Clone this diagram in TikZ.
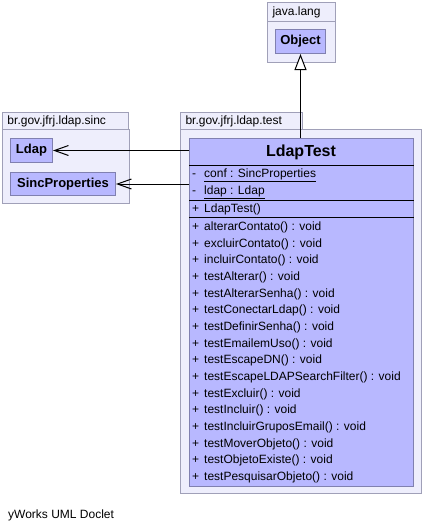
\documentclass[tikz,border=0pt]{standalone}
\usepackage{fontspec}
\setmainfont{Liberation Sans}
\usetikzlibrary{arrows.meta}
\definecolor{pkgfill}{RGB}{238,238,252}
\definecolor{pkgline}{RGB}{160,160,184}
\definecolor{clsfill}{RGB}{184,184,255}
\definecolor{clsline}{RGB}{128,128,176}

\begin{document}
\begin{tikzpicture}[x=1pt,y=-1pt]
    \tikzstyle{pkg}=[draw=pkgline, fill=pkgfill, anchor=north west, inner sep=0pt, line width=1pt]
    \tikzstyle{pkgtab}=[pkg, align=left, inner xsep=5pt, font=\fontsize{12}{14}\selectfont]
    \tikzstyle{cls}=[draw=clsline, fill=clsfill, anchor=north west, inner sep=0pt, line width=1pt, font=\fontsize{13}{15}\selectfont\bfseries]
    \tikzstyle{member}=[anchor=west, inner sep=0pt, font=\fontsize{12}{14}\selectfont]
    \tikzstyle{assoc}=[-{Straight Barb[length=14pt,width=10pt]}, line width=1pt]
    \tikzstyle{inherit}=[-{Triangle[length=16pt,width=12pt,fill=white]}, line width=1pt]

    \useasboundingbox (0,0) rectangle (423,531);
    \fill[white] (0,0) rectangle (423,531);

    % java.lang
    \node[pkgtab, minimum width=68pt, minimum height=19pt, text width=58pt] (langtab) at (267,2) {java.lang};
    \node[pkg, minimum width=68pt, minimum height=41pt] (lang) at (267,21) {};
    \node[cls, minimum width=50pt, minimum height=24pt] (object) at (275,29) {Object};

    % br.gov.jfrj.ldap.sinc
    \node[pkgtab, minimum width=126pt, minimum height=17pt, text width=116pt] (sinctab) at (2,112) {br.gov.jfrj.ldap.sinc};
    \node[pkg, minimum width=127pt, minimum height=74pt] (sinc) at (2,129) {};
    \node[cls, minimum width=42pt, minimum height=24pt] (ldap) at (10,138) {Ldap};
    \node[cls, minimum width=105pt, minimum height=23pt] (sincprops) at (10,172) {SincProperties};

    % br.gov.jfrj.ldap.test
    \node[pkgtab, minimum width=122pt, minimum height=17pt, text width=112pt] (testtab) at (180,112) {br.gov.jfrj.ldap.test};
    \node[pkg, minimum width=241pt, minimum height=364pt] (test) at (180,129) {};
    \node[cls, minimum width=224pt, minimum height=348pt] (ldaptest) at (189,138) {};
    \node[inner sep=0pt, font=\fontsize{16}{18}\selectfont\bfseries] (ldaptitle) at (301,152) {LdapTest};
    \foreach \y in {165,200,217}
        \draw[line width=1pt] (ldaptest.west |- 0,\y) -- (ldaptest.east |- 0,\y);

    \node[member] (conf) at (192,175) {\makebox[12pt][l]{-}\underline{conf : SincProperties}};
    \node[member] (ldapattr) at (192,192) {\makebox[12pt][l]{-}\underline{ldap : Ldap}};
    \node[member] (ctor) at (192,209) {\makebox[12pt][l]{+}LdapTest()};

    \foreach \m [count=\i from 0] in {alterarContato, excluirContato, incluirContato, testAlterar,
        testAlterarSenha, testConectarLdap, testDefinirSenha, testEmailemUso, testEscapeDN,
        testEscapeLDAPSearchFilter, testExcluir, testIncluir, testIncluirGruposEmail,
        testMoverObjeto, testObjetoExiste, testPesquisarObjeto}
        \node[member] (m\i) at (192,227.3+16.67*\i) {\makebox[12pt][l]{+}\m() : void};

    % connectors
    \draw[inherit] (object.south |- ldaptest.north) -- (object.south);
    \draw[assoc] (ldaptest.west |- ldap.east) -- (ldap.east);
    \draw[assoc] (ldaptest.west |- sincprops.east) -- (sincprops.east);

    \node[member] (footer) at (8,515) {yWorks UML Doclet};
\end{tikzpicture}
\end{document}
